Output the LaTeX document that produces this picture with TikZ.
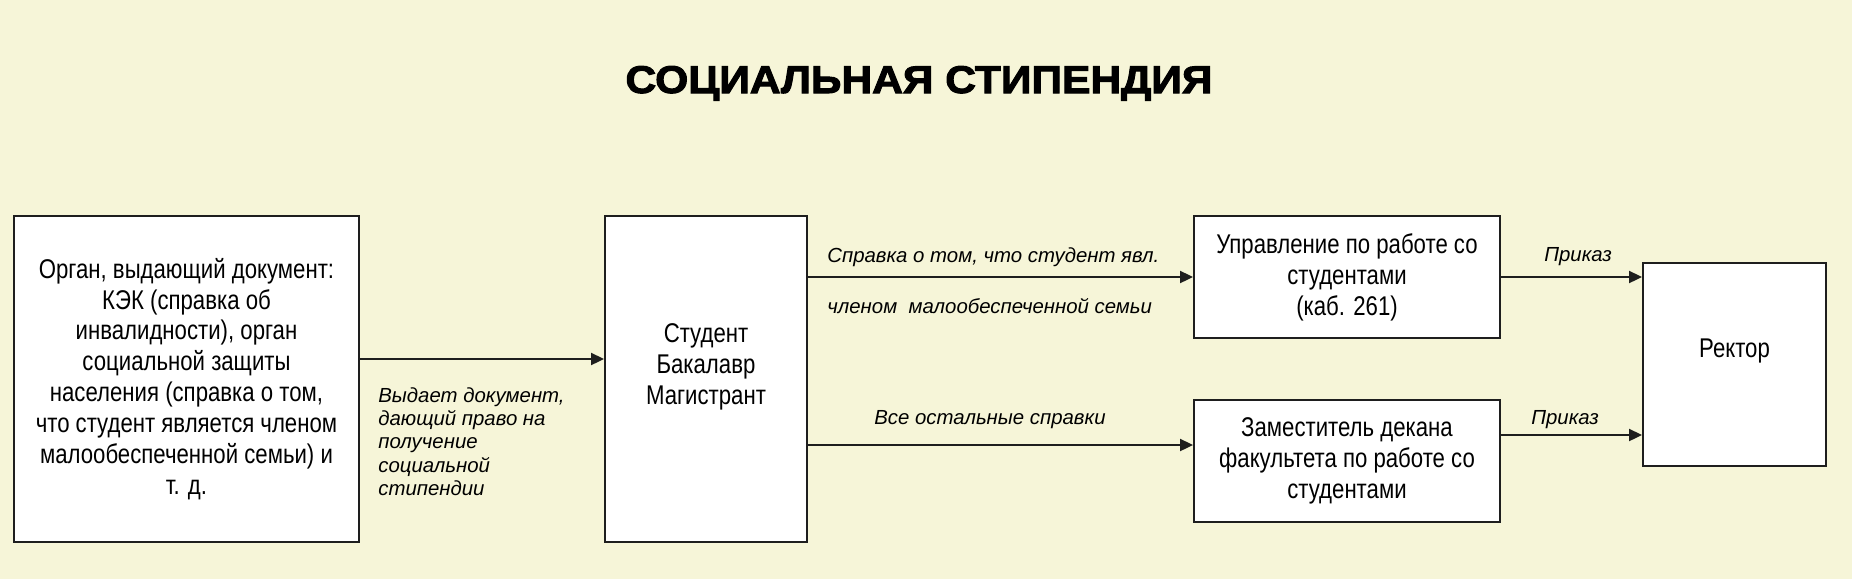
\documentclass[tikz,border=0pt]{standalone}
\usepackage{fontspec}
\setmainfont{Liberation Sans}
\newfontfamily\narrowfont[FakeStretch=0.82]{Liberation Sans}
\newfontfamily\titlefont[FakeStretch=1.1,FakeBold=2.6]{Liberation Sans}
\usepackage{tikz}
\usetikzlibrary{arrows.meta, positioning}
\definecolor{paper}{RGB}{246,245,216}
\definecolor{edge}{RGB}{30,30,30}

\begin{document}
\begin{tikzpicture}[x=0.02cm, y=-0.02cm]
	\tikzstyle{box} = [draw=edge, line width=1.1pt, fill=white, inner sep=0pt, align=center,
		font=\narrowfont\fontsize{15.4}{17.6}\selectfont]
	\tikzstyle{lbl} = [inner sep=0pt, font=\itshape\fontsize{11.6}{13.3}\selectfont]
	\tikzstyle{arr} = [line width=1.1pt, draw=edge, -{Triangle[length=0.26cm, width=0.24cm]}]
	\fill[paper] (0,0) rectangle (1852,579);
	\useasboundingbox (0,0) rectangle (1852,579);
	\node (title) [anchor=base, inner sep=0pt, font=\titlefont\bfseries\fontsize{22}{26}\selectfont] at (919,93) {СОЦИАЛЬНАЯ СТИПЕНДИЯ};
	% boxes
	\node (org) [box, minimum width=6.9cm, minimum height=6.52cm] at (186.5,379) {Орган, выдающий документ:\\КЭК (справка об\\инвалидности), орган\\социальной защиты\\населения (справка о том,\\что студент является членом\\малообеспеченной семьи) и\\т. д.};
	\node (stud) [box, minimum width=4.04cm, minimum height=6.52cm] at (706,379) {};
	\node (studtxt) [box, draw=none, fill=none] at ([yshift=0.24cm]stud.center) {Студент\\Бакалавр\\Магистрант};
	\node (upr) [box, minimum width=6.12cm, minimum height=2.44cm] at (1347,277) {Управление по работе со\\студентами\\(каб. 261)};
	\node (zam) [box, minimum width=6.12cm, minimum height=2.44cm] at (1347,461) {Заместитель декана\\факультета по работе со\\студентами};
	\node (rek) [box, minimum width=3.66cm, minimum height=4.06cm] at (1734.5,364.5) {};
	\node (rektxt) [box, draw=none, fill=none] at ([yshift=0.27cm]rek.center) {Ректор};
	% arrows
	\coordinate (orgout) at ([yshift=0.4cm]org.east);
	\coordinate (zamin) at ([yshift=0.32cm]zam.west);
	\coordinate (zamout) at ([yshift=0.52cm]zam.east);
	\draw[arr] (orgout) -- (orgout -| stud.west);
	\draw[arr] (stud.east |- upr.west) -- (upr.west);
	\draw[arr] (stud.east |- zamin) -- (zamin);
	\draw[arr] (upr.east) -- (upr.east -| rek.west);
	\draw[arr] (zamout) -- (zamout -| rek.west);
	% labels
	\node (l1) [lbl, anchor=north west, align=left] at (378,387) {Выдает документ,\\дающий право на\\получение\\социальной\\стипендии};
	\node (l2) [lbl, anchor=base west] at (827,262) {Справка о том, что студент явл.};
	\node (l3) [lbl, anchor=base west] at (827,313) {членом\ \ малообеспеченной семьи};
	\node (l4) [lbl, anchor=base west] at (874,424) {Все остальные справки};
	\node (l5) [lbl, anchor=base west] at (1544,261) {Приказ};
	\node (l6) [lbl, anchor=base west] at (1531,424) {Приказ};
\end{tikzpicture}
\end{document}
